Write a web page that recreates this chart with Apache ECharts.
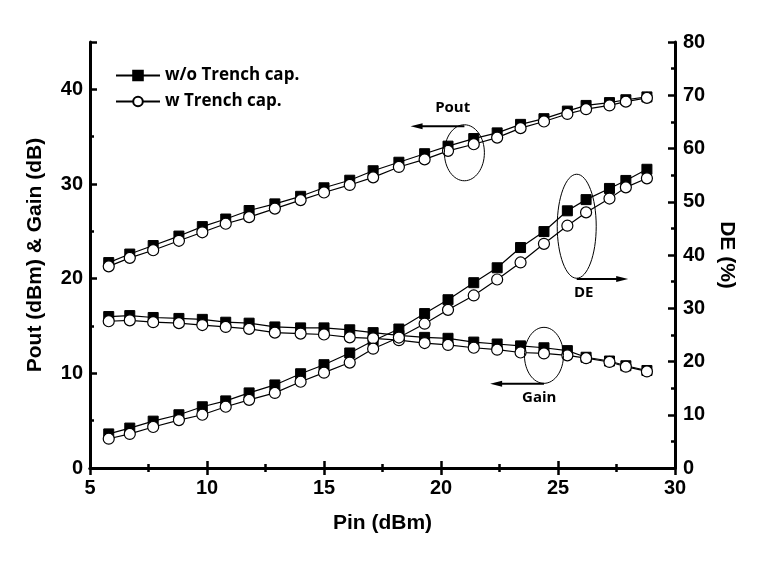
<!DOCTYPE html>
<html>
<head>
<meta charset="utf-8">
<script src="https://cdn.jsdelivr.net/npm/echarts@6/dist/echarts.min.js"></script>
<style>
html,body{margin:0;padding:0;background:#fff;}
#chart{width:765px;height:562px;}
</style>
</head>
<body>
<div id="chart"></div>
<script>
// ---- data ----
const pin = [5.8,6.7,7.7,8.8,9.8,10.8,11.8,12.9,14.0,15.0,16.1,17.1,18.2,19.3,20.3,21.4,22.4,23.4,24.4,25.4,26.2,27.2,27.9,28.8];
const poutWo = [21.7,22.6,23.5,24.5,25.5,26.3,27.2,27.9,28.7,29.6,30.4,31.4,32.3,33.2,34.0,34.8,35.4,36.3,36.9,37.7,38.3,38.6,38.9,39.2];
const poutW  = [21.3,22.2,23.0,24.0,24.9,25.8,26.5,27.4,28.3,29.1,29.9,30.7,31.8,32.6,33.5,34.2,34.9,35.9,36.6,37.4,37.9,38.3,38.7,39.1];
const gainWo = [16.0,16.1,15.9,15.8,15.7,15.4,15.3,14.9,14.8,14.8,14.6,14.3,14.0,13.8,13.7,13.3,13.1,12.9,12.7,12.4,11.7,11.3,10.8,10.3];
const gainW  = [15.5,15.6,15.4,15.3,15.1,14.9,14.7,14.3,14.2,14.1,13.8,13.7,13.5,13.2,13.0,12.7,12.5,12.2,12.1,11.9,11.6,11.2,10.7,10.2];
const deWo = [6.4,7.5,8.8,10.0,11.5,12.6,14.1,15.6,17.7,19.4,21.6,23.9,26.1,29.0,31.6,34.8,37.6,41.4,44.4,48.3,50.4,52.5,54.0,56.1];
const deW  = [5.5,6.4,7.7,9.0,10.0,11.5,12.8,14.1,16.2,17.9,19.8,22.4,24.5,27.1,29.7,32.4,35.4,38.6,42.1,45.5,48.0,50.6,52.7,54.4];
const legendNames = ['w/o Trench cap.', 'w Trench cap.'];
const xTitle = 'Pin (dBm)';
const yLeftTitle = 'Pout (dBm) & Gain (dB)';
const yRightTitle = 'DE (%)';

const pair = (xs, ys) => xs.map((x, i) => [x, ys[i]]);
const tickFont = {fontFamily: 'Liberation Sans Narrow, Liberation Sans, Arial', fontWeight: 'bold', fontSize: 20, color: '#000'};
const titleFont = {fontFamily: 'Liberation Sans, Arial', fontWeight: 'bold', fontSize: 21, color: '#000'};
const lineAxis = {lineStyle: {color: '#000', width: 3}};
const tickIn = {inside: true, length: 7, lineStyle: {color: '#000', width: 2.5}};
const minorIn = {show: true, splitNumber: 2, length: 4, lineStyle: {color: '#000', width: 2.5}};

const sqStyle = {symbol: 'rect', symbolSize: 10, itemStyle: {color: '#000', borderColor: '#000', borderWidth: 1}};
const ciStyle = {symbol: 'circle', symbolSize: 11, itemStyle: {color: '#fff', borderColor: '#000', borderWidth: 1.2}};
const ls = {color: '#000', width: 1.2};

function ser(name, data, yi, st, z) {
  return Object.assign({type: 'line', name: name, data: data, yAxisIndex: yi, xAxisIndex: 0,
    showSymbol: true, lineStyle: ls, animation: false, z: z, emphasis: {disabled: true}}, st);
}

const chart = echarts.init(document.getElementById('chart'));
chart.setOption({
  animation: false,
  backgroundColor: '#fff',
  grid: {left: 90, right: 90, top: 42, bottom: 94},
  legend: {
    data: legendNames, orient: 'vertical', left: 110, top: 62, itemGap: 9,
    itemWidth: 44, itemHeight: 12, selectedMode: false,
    textStyle: {fontFamily: 'Open Sans', fontWeight: 700, fontSize: 17, color: '#000'}
  },
  xAxis: [
    {type: 'value', min: 5, max: 30, interval: 5, position: 'bottom',
     axisLine: lineAxis, axisTick: tickIn, minorTick: minorIn, splitLine: {show: false},
     axisLabel: Object.assign({margin: 10}, tickFont),
     name: xTitle, nameLocation: 'middle', nameGap: 45, nameTextStyle: titleFont},
    {type: 'value', min: 5, max: 30, interval: 5, position: 'top',
     axisLine: lineAxis, axisTick: tickIn, minorTick: minorIn, splitLine: {show: false},
     axisLabel: {show: false}}
  ],
  yAxis: [
    {type: 'value', min: 0, max: 45, interval: 10, position: 'left',
     axisLine: lineAxis, axisTick: tickIn, minorTick: minorIn, splitLine: {show: false},
     axisLabel: Object.assign({margin: 7, showMaxLabel: false}, tickFont),
     name: yLeftTitle, nameLocation: 'middle', nameGap: 44, nameRotate: 90, nameTextStyle: titleFont},
    {type: 'value', min: 0, max: 80, interval: 10, position: 'right',
     axisLine: lineAxis, axisTick: tickIn, minorTick: minorIn, splitLine: {show: false},
     axisLabel: Object.assign({margin: 8}, tickFont),
     name: yRightTitle, nameLocation: 'middle', nameGap: 34, nameRotate: -90, nameTextStyle: titleFont}
  ],
  series: [
    ser(legendNames[0], pair(pin, poutWo), 0, sqStyle, 2),
    ser(legendNames[0], pair(pin, gainWo), 0, sqStyle, 2),
    ser(legendNames[0], pair(pin, deWo), 1, sqStyle, 2),
    ser(legendNames[1], pair(pin, poutW), 0, ciStyle, 3),
    ser(legendNames[1], pair(pin, gainW), 0, ciStyle, 3),
    ser(legendNames[1], pair(pin, deW), 1, ciStyle, 3)
  ]
});

// ---- annotations (placed in data coordinates) ----
const annFont = {fontFamily: 'Open Sans', fontWeight: 700, fontSize: 15, fill: '#000'};
function px(x, y, yi) { return chart.convertToPixel({xAxisIndex: 0, yAxisIndex: yi}, [x, y]); }
function ellipse(c, rx, ry) {
  return {type: 'ellipse', shape: {cx: c[0], cy: c[1], rx: rx, ry: ry},
          style: {fill: 'none', stroke: '#000', lineWidth: 1}, z: 10};
}
function arrow(p0, p1) {
  const dir = Math.sign(p1[0] - p0[0]);
  const hx = p1[0], hy = p1[1];
  return [
    {type: 'line', shape: {x1: p0[0], y1: p0[1], x2: hx - dir * 8, y2: hy}, style: {stroke: '#000', lineWidth: 2}, z: 10},
    {type: 'polygon', shape: {points: [[hx, hy], [hx - dir * 12, hy - 3], [hx - dir * 12, hy + 3]]}, style: {fill: '#000'}, z: 10}
  ];
}
function label(t, p) {
  return {type: 'text', x: p[0], y: p[1], style: Object.assign({text: t, align: 'center', verticalAlign: 'middle'}, annFont), z: 10};
}
// Pout
const pC = px(21.0, 33.3, 0), pTop = px(21.0, 36.1, 0), pEnd = px(18.7, 36.1, 0), pLab = px(20.5, 38.1, 0);
// DE
const dC = px(25.8, 45.4, 1), dBot = px(25.8, 35.5, 1), dEnd = px(28.0, 35.5, 1), dLab = px(26.1, 33.0, 1);
// Gain
const gC = px(24.4, 11.9, 0), gBot = px(24.4, 8.9, 0), gEnd = px(22.1, 8.9, 0), gLab = px(24.2, 7.4, 0);

chart.setOption({graphic: {elements: [
  ellipse(pC, 20, 28), ...arrow(pTop, pEnd), label('Pout', pLab),
  ellipse(dC, 19.5, 52), ...arrow(dBot, dEnd), label('DE', dLab),
  ellipse(gC, 19.5, 28), ...arrow(gBot, gEnd), label('Gain', gLab)
]}});
</script>
</body>
</html>
